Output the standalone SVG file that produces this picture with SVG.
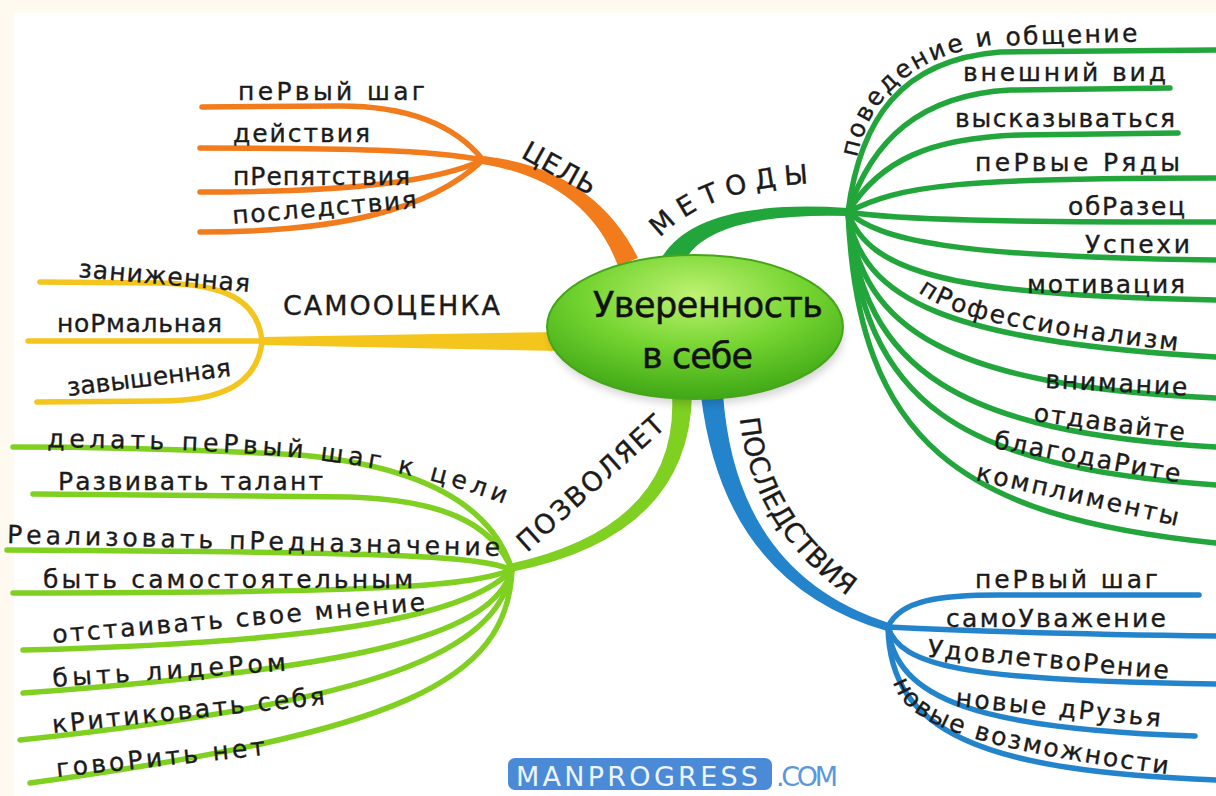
<svg xmlns="http://www.w3.org/2000/svg" width="1216" height="796" viewBox="0 0 1216 796">
<defs>
  <radialGradient id="eg" cx="50%" cy="28%" r="75%">
    <stop offset="0" stop-color="#bff273"/>
    <stop offset="0.5" stop-color="#74d430"/>
    <stop offset="1" stop-color="#3aa414"/>
  </radialGradient>
  <filter id="sh" x="-20%" y="-30%" width="140%" height="160%"><feGaussianBlur stdDeviation="5"/></filter>
  <path id="p-met" d="M660,238 Q710,185 826,183"/>
  <path id="p-poz" d="M527,553 L670,424"/>
  <path id="p-posl" d="M740,418 Q752,540 872,612"/>
  <path id="p-pov" d="M857,158 C868,100 910,58 985,46 L1190,40"/>
  <path id="p-prof" d="M918,292 C950,315 1000,330 1188,352"/>
  <path id="p-vozm" d="M893,682 C905,722 960,748 1182,776"/>
  <path id="p-delat" d="M47,447 C250,450 380,455 512,507"/>
</defs>
<style>
  .t{font-family:"DejaVu Sans","Liberation Sans",sans-serif;font-size:25px;fill:#1b1b1b;stroke:#1b1b1b;stroke-width:0.35}
  .h{font-size:27px}
  .c{font-size:35px;fill:#111;stroke:#111;stroke-width:0.5}
  .s{fill:none;stroke-width:5.5;stroke-linecap:round}
  .so{stroke:#f27b1c}.fo{fill:#f27b1c}
  .sy{stroke:#f4c51c}.fy{fill:#f4c51c}
  .sg{stroke:#7fd021}.fg{fill:#7fd021}
  .sd{stroke:#22a63c}.fd{fill:#22a63c}
  .sb{stroke:#2384cc}.fb{fill:#2384cc}
</style>
<rect width="1216" height="796" fill="#fffaef"/>
<rect x="14" y="13" width="1202" height="783" fill="#ffffff"/>

<g id="connectors">
  <path class="fo" d="M638,258 Q594,169 484,156 L482,164 Q586,181 618,266 Z"/>
  <path class="fy" d="M560,332 L262,337 L262,345 L560,351 Z"/>
  <path class="fd" d="M662,257 Q698,198 848,208 L848,216 Q702,212 682,267 Z"/>
  <path class="fg" d="M692,395 Q689,537 511,572 L509,564 Q679,527 672,395 Z"/>
  <path class="fb" d="M723,394 Q736,574 889,623 L887,631 Q724,584 701,396 Z"/>

  <path class="s so" d="M483,160 C455,125 410,106 340,106 L202,107"/>
  <path class="s so" d="M483,160 C430,150 350,148 200,148"/>
  <path class="s so" d="M483,160 C440,180 360,192 200,192"/>
  <path class="s so" d="M483,160 C430,210 340,232 200,232"/>

  <path class="s sy" d="M262,341 C258,300 225,284 160,283 L40,282"/>
  <path class="s sy" d="M262,341 L28,341"/>
  <path class="s sy" d="M262,341 C258,382 225,401 160,401 L37,402"/>

  <path class="s sg" d="M512,570 C495,515 440,468 300,455 Q150,447 13,447"/>
  <path class="s sg" d="M512,570 C492,522 440,500 350,497 L33,494"/>
  <path class="s sg" d="M512,570 C480,556 400,552 7,550"/>
  <path class="s sg" d="M512,570 C470,585 400,593 13,593"/>
  <path class="s sg" d="M512,570 C472,612 350,642 23,650"/>
  <path class="s sg" d="M512,570 C492,632 380,667 23,693"/>
  <path class="s sg" d="M512,570 C497,652 380,702 20,740"/>
  <path class="s sg" d="M512,570 C507,682 400,732 30,783"/>

  <path class="s sd" d="M848,212 C860,120 900,60 1000,52 L1216,50"/>
  <path class="s sd" d="M848,212 C872,140 920,95 1010,90 L1170,88"/>
  <path class="s sd" d="M848,212 C880,160 930,138 1020,135 L1178,133"/>
  <path class="s sd" d="M848,212 C900,185 960,178 1216,178"/>
  <path class="s sd" d="M848,212 C900,220 1000,222 1216,222"/>
  <path class="s sd" d="M848,212 C880,240 950,257 1216,260"/>
  <path class="s sd" d="M848,212 C868,272 950,296 1216,300"/>
  <path class="s sd" d="M848,212 C860,300 950,342 1216,357"/>
  <path class="s sd" d="M848,212 C860,330 950,386 1216,398"/>
  <path class="s sd" d="M848,212 C862,372 960,432 1216,447"/>
  <path class="s sd" d="M848,212 C862,405 960,467 1216,485"/>
  <path class="s sd" d="M848,212 C858,442 960,517 1216,543"/>

  <path class="s sb" d="M888,627 C900,600 940,595 1000,595 L1199,595"/>
  <path class="s sb" d="M888,627 C950,630 1050,634 1216,636"/>
  <path class="s sb" d="M888,627 C900,665 960,681 1216,684"/>
  <path class="s sb" d="M888,627 C895,700 980,729 1195,736"/>
  <path class="s sb" d="M888,627 C890,732 980,771 1216,780"/>
</g>

<g id="node-center">
  <ellipse cx="697" cy="336" rx="146" ry="68" fill="#000" opacity="0.18" filter="url(#sh)"/>
  <ellipse cx="695" cy="327" rx="148" ry="72" fill="url(#eg)" stroke="#46a51a" stroke-width="2"/>
  <text class="t c" x="593" y="317" textLength="230">Уверенность</text>
  <text class="t c" x="642" y="368" textLength="111">в себе</text>
</g>

<g id="node-cel"><text class="t h" x="520" y="157" textLength="80" transform="rotate(29 520 157)">ЦЕЛЬ</text></g>
<g id="node-cel-1"><text class="t" x="238" y="100" textLength="187">пеРвый шаг</text></g>
<g id="node-cel-2"><text class="t" x="233" y="142" textLength="137">действия</text></g>
<g id="node-cel-3"><text class="t" x="233" y="185" textLength="177">пРепятствия</text></g>
<g id="node-cel-4"><text class="t" x="233" y="224" textLength="185" transform="rotate(-5 233 224)">последствия</text></g>

<g id="node-samo"><text class="t h" x="283" y="315" textLength="217">САМООЦЕНКА</text></g>
<g id="node-samo-1"><text class="t" x="78" y="277" textLength="172" transform="rotate(5 78 277)">заниженная</text></g>
<g id="node-samo-2"><text class="t" x="57" y="332" textLength="165">ноРмальная</text></g>
<g id="node-samo-3"><text class="t" x="68" y="396" textLength="165" transform="rotate(-7 68 396)">завышенная</text></g>

<g id="node-poz"><text class="t h"><textPath href="#p-poz" textLength="188">ПОЗВОЛЯЕТ</textPath></text></g>
<g id="node-poz-1"><text class="t"><textPath href="#p-delat" textLength="463">делать пеРвый шаг к цели</textPath></text></g>
<g id="node-poz-2"><text class="t" x="58" y="490" textLength="265">Развивать талант</text></g>
<g id="node-poz-3"><text class="t" x="7" y="543" textLength="493" transform="rotate(1.5 7 543)">Реализовать пРедназначение</text></g>
<g id="node-poz-4"><text class="t" x="43" y="588" textLength="370">быть самостоятельным</text></g>
<g id="node-poz-5"><text class="t" x="53" y="643" textLength="374" transform="rotate(-5 53 643)">отстаивать свое мнение</text></g>
<g id="node-poz-6"><text class="t" x="53" y="687" textLength="234" transform="rotate(-4 53 687)">быть лидеРом</text></g>
<g id="node-poz-7"><text class="t" x="53" y="733" textLength="274" transform="rotate(-6 53 733)">кРитиковать себя</text></g>
<g id="node-poz-8"><text class="t" x="57" y="777" textLength="210" transform="rotate(-6 57 777)">говоРить нет</text></g>

<g id="node-met"><text class="t h"><textPath href="#p-met" textLength="162">МЕТОДЫ</textPath></text></g>
<g id="node-met-1"><text class="t"><textPath href="#p-pov" textLength="335">поведение и общение</textPath></text></g>
<g id="node-met-2"><text class="t" x="963" y="81" textLength="203">внешний вид</text></g>
<g id="node-met-3"><text class="t" x="955" y="127" textLength="220">высказываться</text></g>
<g id="node-met-4"><text class="t" x="975" y="171" textLength="205">пеРвые Ряды</text></g>
<g id="node-met-5"><text class="t" x="1068" y="215" textLength="117">обРазец</text></g>
<g id="node-met-6"><text class="t" x="1085" y="253" textLength="105">Успехи</text></g>
<g id="node-met-7"><text class="t" x="1027" y="293" textLength="158">мотивация</text></g>
<g id="node-met-8"><text class="t"><textPath href="#p-prof" textLength="268">пРофессионализм</textPath></text></g>
<g id="node-met-9"><text class="t" x="1045" y="388" textLength="142" transform="rotate(3 1045 388)">внимание</text></g>
<g id="node-met-10"><text class="t" x="1033" y="421" textLength="152" transform="rotate(7.5 1033 421)">отдавайте</text></g>
<g id="node-met-11"><text class="t" x="993" y="448" textLength="189" transform="rotate(10.5 993 448)">благодаРите</text></g>
<g id="node-met-12"><text class="t" x="975" y="480" textLength="207" transform="rotate(12.8 975 480)">комплименты</text></g>

<g id="node-posl"><text class="t h"><textPath href="#p-posl" textLength="215">ПОСЛЕДСТВИЯ</textPath></text></g>
<g id="node-posl-1"><text class="t" x="975" y="588" textLength="183">пеРвый шаг</text></g>
<g id="node-posl-2"><text class="t" x="946" y="627" textLength="220">самоУважение</text></g>
<g id="node-posl-3"><text class="t" x="927" y="657" textLength="242" transform="rotate(5.2 927 657)">УдовлетвоРение</text></g>
<g id="node-posl-4"><text class="t" x="955" y="706" textLength="206" transform="rotate(5.8 955 706)">новые дРузья</text></g>
<g id="node-posl-5"><text class="t"><textPath href="#p-vozm" textLength="300">новые возможности</textPath></text></g>

<g id="logo">
  <rect x="508" y="758" width="264" height="32" rx="7" fill="#4a8ad6"/>
  <text x="516" y="786" textLength="242" style="font-family:'DejaVu Sans','Liberation Sans',sans-serif;font-size:27px;fill:#eef4fc">MANPROGRESS</text>
  <text x="776" y="786" textLength="62" style="font-family:'DejaVu Sans','Liberation Sans',sans-serif;font-size:27px;fill:#5b97da">.COM</text>
</g>
</svg>
